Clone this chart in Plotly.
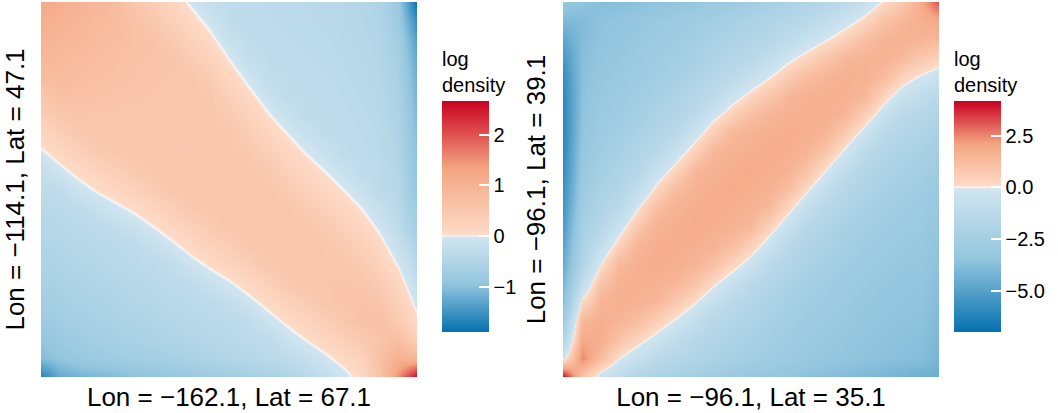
import plotly.graph_objects as go

W, H = 1058, 413

# grid coordinates (u along x, v along y)
U = [0.0, 0.05, 0.1, 0.15, 0.2, 0.25, 0.3, 0.35, 0.4, 0.45, 0.5,
     0.55, 0.6, 0.65, 0.7, 0.75, 0.8, 0.85, 0.9, 0.95, 1.0]
V_TOP_DOWN = [1.0, 0.95, 0.9, 0.85, 0.8, 0.75, 0.7, 0.65, 0.6, 0.55, 0.5,
              0.45, 0.4, 0.35, 0.3, 0.25, 0.2, 0.15, 0.1, 0.05, 0.0]

# left panel: log density, rows from top (v=1) to bottom (v=0)
LEFT_Z = [
    [1.25, 1.1, 0.98, 0.88, 0.8, 0.51, 0.33, 0.14, -0.045, -0.23, -0.3, -0.31, -0.33, -0.35, -0.37, -0.39, -0.42, -0.46, -0.52, -0.85, -1.9],
    [1.1, 1.0, 0.92, 0.84, 0.77, 0.66, 0.48, 0.29, 0.105, -0.08, -0.28, -0.3, -0.32, -0.34, -0.36, -0.38, -0.41, -0.45, -0.5, -0.78, -1.6],
    [0.98, 0.92, 0.86, 0.79, 0.73, 0.67, 0.62, 0.44, 0.255, 0.07, -0.16, -0.28, -0.3, -0.32, -0.34, -0.36, -0.39, -0.43, -0.48, -0.7, -1.4],
    [0.9, 0.84, 0.79, 0.74, 0.69, 0.64, 0.6, 0.57, 0.405, 0.22, -0.012, -0.22, -0.28, -0.3, -0.32, -0.34, -0.37, -0.41, -0.46, -0.65, -1.3],
    [0.76, 0.78, 0.73, 0.69, 0.65, 0.61, 0.58, 0.56, 0.54, 0.37, 0.14, -0.07, -0.27, -0.27, -0.29, -0.32, -0.35, -0.39, -0.44, -0.62, -1.2],
    [0.56, 0.7, 0.66, 0.63, 0.6, 0.58, 0.56, 0.55, 0.53, 0.52, 0.29, 0.08, -0.12, -0.29, -0.27, -0.3, -0.33, -0.37, -0.42, -0.58, -1.15],
    [0.36, 0.53, 0.58, 0.56, 0.55, 0.54, 0.53, 0.53, 0.52, 0.52, 0.44, 0.23, 0.03, -0.14, -0.3, -0.28, -0.31, -0.35, -0.4, -0.55, -1.1],
    [0.16, 0.33, 0.49, 0.54, 0.54, 0.53, 0.53, 0.53, 0.52, 0.52, 0.51, 0.38, 0.18, 0.012, -0.15, -0.29, -0.3, -0.33, -0.38, -0.52, -1.05],
    [-0.04, 0.13, 0.29, 0.42, 0.53, 0.53, 0.53, 0.53, 0.53, 0.52, 0.51, 0.5, 0.33, 0.16, 0.0, -0.14, -0.29, -0.31, -0.36, -0.5, -1.0],
    [-0.24, -0.07, 0.09, 0.22, 0.34, 0.46, 0.53, 0.53, 0.53, 0.53, 0.53, 0.52, 0.48, 0.31, 0.15, 0.01, -0.14, -0.3, -0.33, -0.47, -0.95],
    [-0.35, -0.27, -0.11, 0.024, 0.14, 0.26, 0.4, 0.53, 0.53, 0.53, 0.53, 0.53, 0.52, 0.46, 0.3, 0.16, 0.012, -0.15, -0.345, -0.42, -0.9],
    [-0.4, -0.37, -0.31, -0.18, -0.06, 0.06, 0.2, 0.35, 0.5, 0.53, 0.53, 0.53, 0.53, 0.52, 0.45, 0.31, 0.16, 0.0, -0.195, -0.4, -0.8],
    [-0.45, -0.42, -0.38, -0.35, -0.26, -0.14, 0.0, 0.15, 0.3, 0.44, 0.53, 0.54, 0.54, 0.54, 0.53, 0.46, 0.31, 0.15, -0.045, -0.315, -0.69],
    [-0.5, -0.47, -0.43, -0.4, -0.37, -0.34, -0.2, -0.05, 0.1, 0.24, 0.37, 0.52, 0.55, 0.54, 0.54, 0.54, 0.46, 0.3, 0.105, -0.165, -0.54],
    [-0.55, -0.52, -0.48, -0.44, -0.4, -0.37, -0.34, -0.25, -0.1, 0.04, 0.17, 0.32, 0.48, 0.55, 0.55, 0.55, 0.55, 0.45, 0.255, -0.015, -0.39],
    [-0.62, -0.58, -0.54, -0.5, -0.46, -0.42, -0.39, -0.35, -0.3, -0.16, -0.03, 0.12, 0.28, 0.44, 0.56, 0.57, 0.57, 0.56, 0.405, 0.135, -0.24],
    [-0.7, -0.64, -0.59, -0.55, -0.51, -0.47, -0.43, -0.39, -0.36, -0.33, -0.23, -0.08, 0.08, 0.24, 0.39, 0.53, 0.6, 0.62, 0.555, 0.285, -0.09],
    [-0.8, -0.72, -0.66, -0.61, -0.57, -0.53, -0.49, -0.45, -0.41, -0.38, -0.35, -0.28, -0.12, 0.036, 0.19, 0.33, 0.49, 0.64, 0.68, 0.435, 0.06],
    [-0.92, -0.82, -0.75, -0.69, -0.64, -0.6, -0.56, -0.52, -0.48, -0.44, -0.4, -0.36, -0.32, -0.16, -0.012, 0.13, 0.29, 0.44, 0.6, 0.75, 0.3],
    [-1.05, -0.93, -0.85, -0.79, -0.74, -0.7, -0.66, -0.62, -0.58, -0.53, -0.48, -0.43, -0.38, -0.33, -0.21, -0.07, 0.09, 0.24, 0.65, 1.05, 0.9],
    [-1.7, -1.25, -1.15, -1.1, -1.05, -1.0, -0.95, -0.9, -0.85, -0.8, -0.74, -0.67, -0.6, -0.55, -0.41, -0.27, -0.11, 0.1, 0.6, 1.5, 2.67],
]

# right panel: log density, rows from top (v=1) to bottom (v=0)
RIGHT_Z = [
    [-3.3, -3.5, -3.8, -3.75, -3.7, -3.6, -3.45, -3.3, -3.1, -2.9, -2.65, -2.4, -2.1, -1.85, -1.6, -1.26, -0.67, 0.09, 0.72, 1.8, 3.2],
    [-4.0, -3.9, -3.6, -3.45, -3.3, -3.1, -2.93, -2.77, -2.55, -2.29, -2.06, -1.85, -1.62, -1.43, -0.92, -0.36, 0.23, 0.99, 1.45, 1.65, 1.9],
    [-4.8, -3.85, -3.5, -3.35, -3.15, -2.95, -2.78, -2.57, -2.25, -1.98, -1.76, -1.55, -1.1, -0.56, -0.02, 0.54, 1.13, 1.52, 1.6, 1.5, 1.35],
    [-5.4, -3.8, -3.4, -3.22, -3.0, -2.78, -2.58, -2.28, -1.95, -1.69, -1.45, -0.9, -0.2, 0.34, 0.88, 1.4, 1.55, 1.59, 1.35, 0.81, 0.45],
    [-5.8, -3.7, -3.29, -3.07, -2.85, -2.6, -2.31, -1.98, -1.65, -1.31, -0.63, 0.0, 0.7, 1.24, 1.5, 1.65, 1.62, 1.31, 0.45, -0.09, -0.5],
    [-6.0, -3.65, -3.14, -2.92, -2.7, -2.34, -2.0, -1.68, -1.21, -0.41, 0.27, 0.9, 1.45, 1.6, 1.68, 1.63, 1.43, 0.41, -0.45, -0.99, -1.5],
    [-6.1, -3.55, -2.99, -2.77, -2.46, -2.04, -1.71, -1.3, -0.31, 0.49, 1.17, 1.5, 1.65, 1.72, 1.67, 1.45, 0.58, -0.49, -1.35, -1.58, -1.95],
    [-6.1, -3.45, -2.84, -2.57, -2.16, -1.74, -1.39, -0.4, 0.59, 1.39, 1.55, 1.68, 1.77, 1.69, 1.49, 0.7, -0.32, -1.39, -1.7, -1.88, -2.3],
    [-6.0, -3.3, -2.68, -2.3, -1.86, -1.43, -0.49, 0.5, 1.42, 1.6, 1.72, 1.8, 1.7, 1.51, 0.85, -0.2, -1.22, -1.71, -2.0, -2.18, -2.6],
    [-5.9, -3.15, -2.43, -1.99, -1.56, -0.58, 0.41, 1.4, 1.62, 1.76, 1.83, 1.73, 1.54, 0.97, -0.05, -1.1, -1.66, -2.0, -2.3, -2.48, -2.9],
    [-5.7, -2.95, -2.13, -1.69, -0.92, 0.32, 1.31, 1.6, 1.76, 1.82, 1.73, 1.58, 1.12, 0.07, -0.95, -1.61, -1.96, -2.31, -2.58, -2.72, -3.1],
    [-5.5, -2.7, -1.83, -1.33, -0.02, 1.22, 1.59, 1.75, 1.82, 1.71, 1.6, 1.26, 0.22, -0.83, -1.57, -1.92, -2.26, -2.58, -2.78, -2.87, -3.25],
    [-5.2, -2.4, -1.52, -0.43, 0.88, 1.57, 1.74, 1.8, 1.69, 1.57, 1.35, 0.36, -0.68, -1.52, -1.87, -2.22, -2.54, -2.78, -2.93, -3.0, -3.4],
    [-4.9, -2.1, -0.83, 0.47, 1.5, 1.73, 1.78, 1.69, 1.54, 1.22, 0.45, -0.54, -1.47, -1.83, -2.17, -2.5, -2.75, -2.93, -3.08, -3.17, -3.55],
    [-4.6, -1.8, 0.07, 1.37, 1.68, 1.76, 1.66, 1.51, 1.08, 0.32, -0.45, -1.42, -1.78, -2.13, -2.46, -2.73, -2.9, -3.08, -3.22, -3.31, -3.65],
    [-4.2, -1.0, 0.97, 1.6, 1.7, 1.61, 1.47, 0.95, 0.18, -0.58, -1.35, -1.73, -2.08, -2.43, -2.71, -2.88, -3.05, -3.23, -3.35, -3.41, -3.75],
    [-3.7, 0.2, 1.55, 1.68, 1.57, 1.42, 0.77, 0.05, -0.72, -1.43, -1.7, -2.03, -2.38, -2.68, -2.86, -3.03, -3.2, -3.35, -3.45, -3.51, -3.85],
    [-2.9, 1.4, 1.7, 1.5, 1.17, 0.52, -0.13, -0.85, -1.49, -1.74, -2.0, -2.33, -2.64, -2.84, -3.01, -3.18, -3.34, -3.45, -3.55, -3.61, -3.95],
    [-1.8, 1.9, 1.75, 0.92, 0.27, -0.38, -1.03, -1.53, -1.79, -2.04, -2.3, -2.6, -2.81, -2.99, -3.16, -3.32, -3.44, -3.55, -3.65, -3.71, -4.1],
    [-0.4, 2.5, 1.2, 0.02, -0.63, -1.28, -1.59, -1.83, -2.09, -2.34, -2.58, -2.79, -2.96, -3.14, -3.31, -3.42, -3.54, -3.65, -3.75, -3.8, -4.2],
    [4.18, 0.9, -0.5, -1.2, -1.8, -2.1, -2.3, -2.55, -2.8, -3.0, -3.2, -3.35, -3.5, -3.7, -3.8, -3.9, -4.0, -4.15, -4.25, -4.35, -4.5],
]

# colour-bar limits
LEFT_ZRANGE = [-1.9, 2.67]
RIGHT_ZRANGE = [-7.01, 4.18]

LEFT_TICKVALS = [-1, 0, 1, 2]
LEFT_TICKTEXT = ["\u22121", "0", "1", "2"]
RIGHT_TICKVALS = [-5.0, -2.5, 0.0, 2.5]
RIGHT_TICKTEXT = ["\u22125.0", "\u22122.5", "0.0", "2.5"]

LEFT_XTITLE = "Lon = \u2212162.1, Lat = 67.1"
LEFT_YTITLE = "Lon = \u2212114.1, Lat = 47.1"
RIGHT_XTITLE = "Lon = \u221296.1, Lat = 35.1"
RIGHT_YTITLE = "Lon = \u221296.1, Lat = 39.1"
CB_TITLE = "log<br>density"

FONT = "Liberation Sans, Arial, Helvetica, sans-serif"


def rdbu_scale(zmin, zmax, eps=0.006):
    t0 = (0 - zmin) / (zmax - zmin)
    return [[0.0, "#0571b0"], [t0 / 2, "#92c5de"], [t0 - eps, "#d1e5f0"],
            [t0, "#f7f7f7"], [t0 + eps, "#fddbc7"],
            [t0 + (1 - t0) / 2, "#f4a582"], [1.0, "#ca0020"]]


# layout geometry (pixels)
PLOT_TOP, PLOT_BOT = 2, 377
LEFT_X0, LEFT_X1 = 41, 417
RIGHT_X0, RIGHT_X1 = 563, 939
CB_TOTAL_TOP = 48          # top of colour-bar block incl. title
CB_TOP, CB_BOT = 101, 332  # the coloured bar itself
CB_THICK = 47
LEFT_CB_X = 442
RIGHT_CB_X = 954

V = V_TOP_DOWN[::-1]
fig = go.Figure()
shapes = []

panels = [
    (LEFT_Z, LEFT_ZRANGE, "x", "y", LEFT_CB_X, LEFT_TICKVALS, LEFT_TICKTEXT),
    (RIGHT_Z, RIGHT_ZRANGE, "x2", "y2", RIGHT_CB_X, RIGHT_TICKVALS, RIGHT_TICKTEXT),
]
for zrows, (zmin, zmax), xa, ya, cbx, tv, tt in panels:
    z = zrows[::-1]
    fig.add_trace(go.Heatmap(
        x=U, y=V, z=z, xaxis=xa, yaxis=ya, zsmooth="best",
        zmin=zmin, zmax=zmax, colorscale=rdbu_scale(zmin, zmax),
        hoverinfo="skip",
        colorbar=dict(
            title=dict(text=CB_TITLE, side="top",
                       font=dict(size=20, family=FONT, color="black")),
            x=cbx / W, xanchor="left",
            y=1 - CB_TOTAL_TOP / H, yanchor="top",
            len=CB_BOT - CB_TOTAL_TOP, lenmode="pixels",
            thickness=CB_THICK, thicknessmode="pixels",
            xpad=0, ypad=0, outlinewidth=0,
            tickmode="array", tickvals=tv, ticktext=tt,
            ticks="inside", ticklen=10, tickwidth=1.5, tickcolor="white",
            tickfont=dict(size=20, family=FONT, color="black"),
        ),
    ))
    # white ticks on the left side of the colour bar (as in the reference)
    for val in tv:
        ypx = CB_BOT - (val - zmin) / (zmax - zmin) * (CB_BOT - CB_TOP)
        shapes.append(dict(type="line", xref="paper", yref="paper",
                           x0=cbx / W, x1=(cbx + 10) / W,
                           y0=1 - ypx / H, y1=1 - ypx / H,
                           line=dict(color="white", width=1.5), layer="above"))

ydom = [1 - PLOT_BOT / H, 1 - PLOT_TOP / H]
axis_common = dict(range=[0, 1], showticklabels=False, ticks="", showgrid=False,
                   zeroline=False, showline=False, fixedrange=True)

fig.update_layout(
    width=W, height=H, margin=dict(l=0, r=0, t=0, b=0),
    paper_bgcolor="white", plot_bgcolor="white",
    font=dict(family=FONT, color="black"),
    xaxis=dict(domain=[LEFT_X0 / W, LEFT_X1 / W], anchor="y",
               title=dict(text=LEFT_XTITLE, font=dict(size=26), standoff=10), **axis_common),
    yaxis=dict(domain=ydom, anchor="x",
               title=dict(text=LEFT_YTITLE, font=dict(size=26), standoff=8), **axis_common),
    xaxis2=dict(domain=[RIGHT_X0 / W, RIGHT_X1 / W], anchor="y2",
                title=dict(text=RIGHT_XTITLE, font=dict(size=26), standoff=10), **axis_common),
    yaxis2=dict(domain=ydom, anchor="x2",
                title=dict(text=RIGHT_YTITLE, font=dict(size=26), standoff=8), **axis_common),
    shapes=shapes,
    showlegend=False,
)

fig.write_html("out.html")
